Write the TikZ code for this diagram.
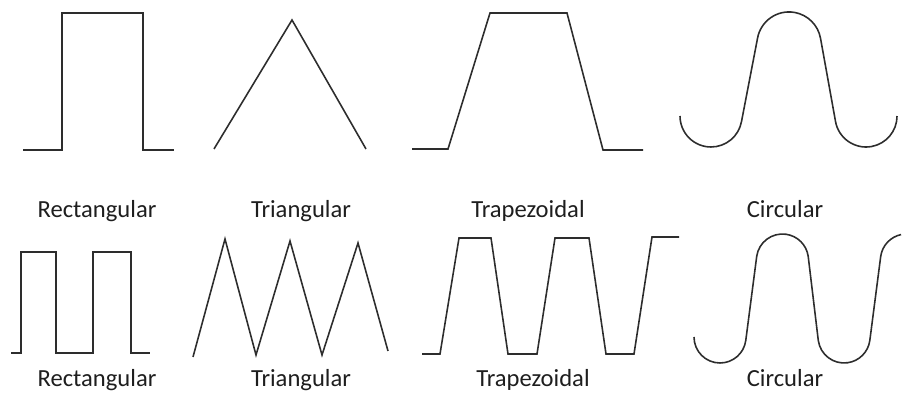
\documentclass[tikz,border=0pt]{standalone}
\usepackage{fontspec}
\setmainfont{Carlito}
\usepackage{tikz}
\usepackage{xcolor}
\definecolor{pulse}{RGB}{45,45,45}
\definecolor{lbl}{RGB}{30,30,30}

\begin{document}
\begin{tikzpicture}[x=0.02cm,y=0.02cm,
  wave/.style={pulse,line width=0.9pt,line join=miter},
  shapename/.style={text=lbl,anchor=base,inner sep=0pt,font=\fontsize{14}{17}\selectfont}]
  \useasboundingbox (0,0) rectangle (902,398);
  % single pulses
  \draw[wave] (23,248) -- (62,248) -- (62,385) -- (143,385) -- (143,248) -- (174,248);
  \draw[wave] (214,249) -- (292,378) -- (366,249);
  \draw[wave] (412,249) -- (448,249) -- (490,385) -- (567,385) -- (603,248) -- (643,248);
  \draw[wave] (680,282) arc[start angle=180,end angle=350,radius=31]
    -- (757.5,359.6) arc[start angle=170,end angle=10,radius=32]
    -- (835.5,276.6) arc[start angle=190,end angle=360,radius=31];
  \node[shapename] (rect1) at (97,180) {Rectangular};
  \node[shapename] (tri1) at (301,180) {Triangular};
  \node[shapename] (trap1) at (528,180) {Trapezoidal};
  \node[shapename] (circ1) at (785,180) {Circular};
  % pulse trains
  \draw[wave] (11,45) -- (21,45) -- (21,146) -- (56,146) -- (56,45) -- (93,45)
    -- (93,146) -- (131,146) -- (131,45) -- (150,45);
  \draw[wave] (193,41) -- (225,159) -- (256,43) -- (290,157) -- (322,43) -- (358,155) -- (388,47);
  \draw[wave] (422,44) -- (440,44) -- (459,160) -- (491,160) -- (508,44) -- (537,44)
    -- (555,160) -- (589,160) -- (606,44) -- (634,44) -- (652,161) -- (679,161);
  \draw[wave] (694,61) arc[start angle=180,end angle=352,radius=26]
    -- (756.7,141.6) arc[start angle=172,end angle=8,radius=26]
    -- (818.3,57.4) arc[start angle=188,end angle=352,radius=26]
    -- (880.7,141.6) arc[start angle=172,end angle=102,radius=26];
  \node[shapename] (rect2) at (97,11) {Rectangular};
  \node[shapename] (tri2) at (301,11) {Triangular};
  \node[shapename] (trap2) at (533,11) {Trapezoidal};
  \node[shapename] (circ2) at (785,11) {Circular};
\end{tikzpicture}
\end{document}
